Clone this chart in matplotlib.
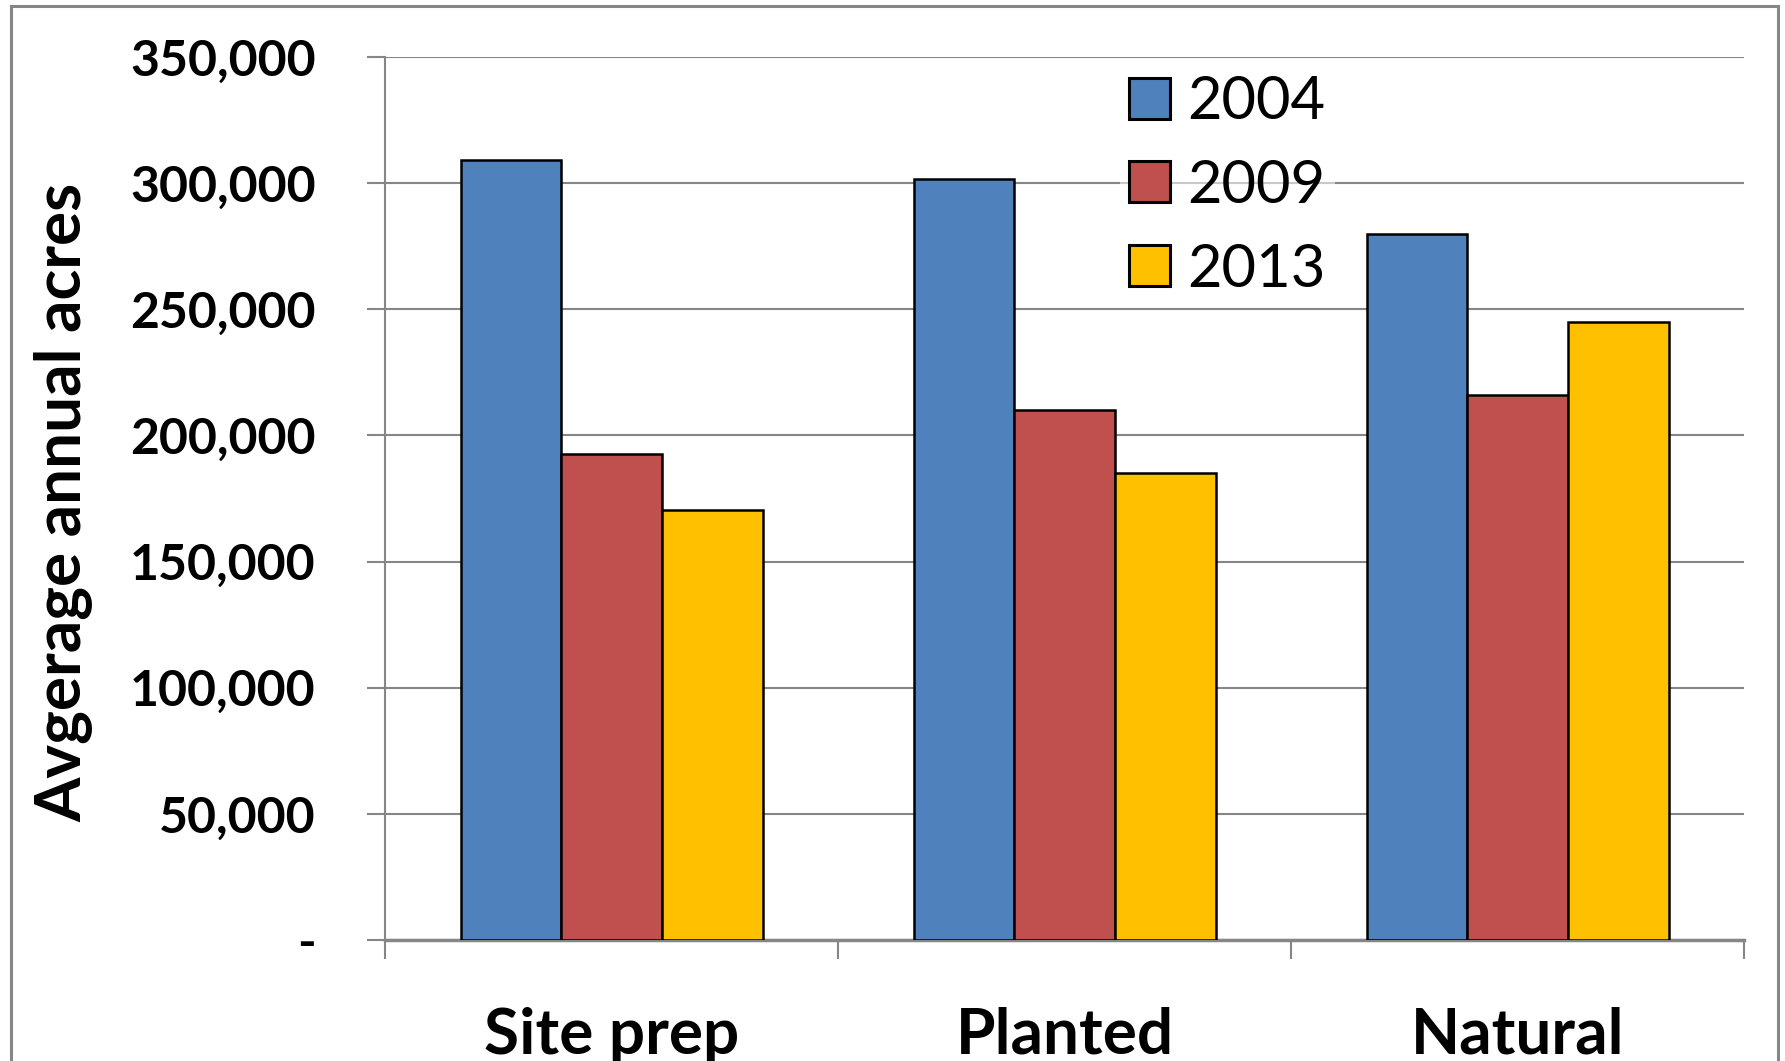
import matplotlib
matplotlib.use("Agg")
import matplotlib.pyplot as plt
from matplotlib.patches import Rectangle
from matplotlib.ticker import FuncFormatter
import numpy as np

categories = ["Site prep", "Planted", "Natural"]
years = ["2004", "2009", "2013"]
acres_2004 = [309000, 301500, 280000]
acres_2009 = [192500, 210000, 216000]
acres_2013 = [170500, 185000, 245000]
colors = ["#4F81BD", "#C0504D", "#FFC000"]

plt.rcParams['font.family'] = ['Lato', 'DejaVu Sans']

fig = plt.figure(figsize=(17.85, 10.61), dpi=100)
ax = fig.add_axes([385/1785, 1 - 940/1061, (1744-385)/1785, (940-57)/1061])

x = np.arange(len(categories))
w = 1/4.5
series = [acres_2004, acres_2009, acres_2013]
for i, vals in enumerate(series):
    ax.bar(x + (i-1)*w, vals, w, color=colors[i], edgecolor="black",
           linewidth=1.8, label=years[i], zorder=3)

grid = "#868686"
ax.set_xlim(-0.5, 2.5)
ax.set_ylim(0, 350000)
ax.set_yticks(np.arange(0, 350001, 50000))
ax.yaxis.set_major_formatter(FuncFormatter(lambda v, p: "-" if v == 0 else "{:,}".format(int(v))))
ax.yaxis.grid(True, color=grid, linewidth=1.5, zorder=0)
ax.set_axisbelow(True)
ax.tick_params(axis="y", length=13, width=1.5, color=grid, pad=37, labelsize=36)
for t in ax.get_yticklabels():
    t.set_fontweight("bold")

ax.set_xticks(x)
ax.set_xticklabels(categories, fontsize=46, fontweight="bold")
ax.set_xticks([-0.5, 0.5, 1.5, 2.5], minor=True)
ax.tick_params(axis="x", which="major", length=0, pad=48)
ax.tick_params(axis="x", which="minor", length=14, width=1.5, color=grid)

for s in ["top", "right"]:
    ax.spines[s].set_visible(False)
ax.spines["left"].set_color(grid)
ax.spines["left"].set_linewidth(1.5)
ax.spines["bottom"].set_color(grid)
ax.spines["bottom"].set_linewidth(2.5)

fig.text(63/1785, 1 - 502/1061, "Avgerage annual acres", rotation=90,
         ha="center", va="center", fontsize=46, fontweight="bold")

# legend sits over the gridlines with a half see-through white box
leg = ax.legend(loc="upper left", bbox_to_anchor=(1120/1785, 1 - 66/1061),
                bbox_transform=fig.transFigure, fontsize=43, frameon=True,
                handlelength=0.68, handleheight=0.68, handletextpad=0.3,
                labelspacing=0.5, borderpad=0.15, borderaxespad=0)
leg.get_frame().set_edgecolor("none")
leg.get_frame().set_facecolor("white")
leg.get_frame().set_alpha(0.55)
for h in leg.legend_handles:
    h.set_linewidth(2.2)

# grey chart-area border, open at the bottom edge
fig.patches.append(Rectangle((11/1785, -0.1), (1778-11)/1785, 1.1 - 6/1061,
                             transform=fig.transFigure, fill=False,
                             edgecolor=grid, linewidth=2.2))

fig.savefig("out.png", dpi=100)
